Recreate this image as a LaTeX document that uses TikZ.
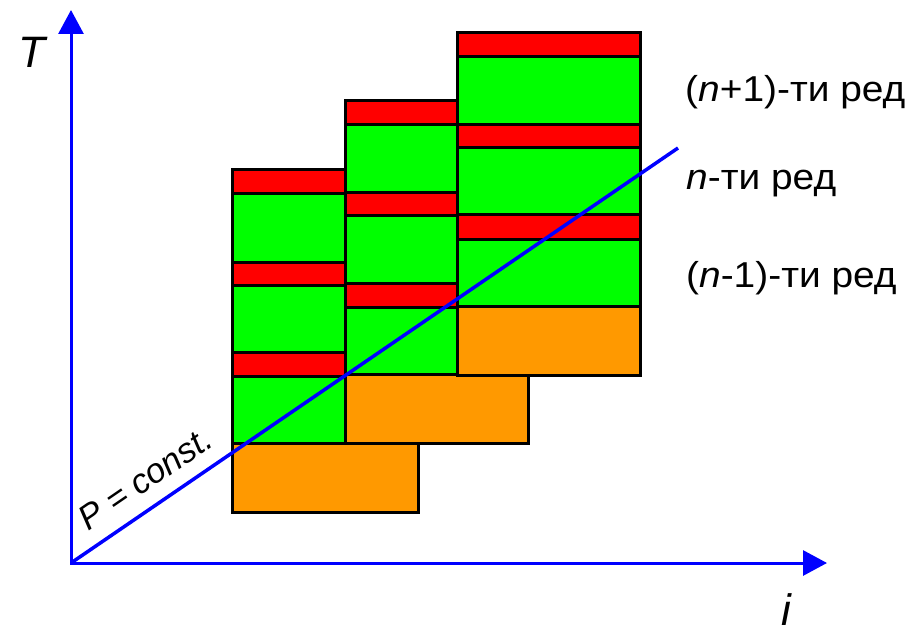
\documentclass[tikz,border=0pt]{standalone}
\usepackage{fontspec}
\setmainfont{Liberation Sans}
\usetikzlibrary{arrows.meta}
\definecolor{cred}{RGB}{255,0,0}
\definecolor{cgreen}{RGB}{0,255,0}
\definecolor{corange}{RGB}{255,153,0}
\definecolor{cblue}{RGB}{0,0,255}
\begin{document}
\begin{tikzpicture}[x=1pt,y=-1pt,
  cell/.style={draw=black,line width=3pt},
  ax/.style={draw=cblue,line width=3pt,{Triangle[length=24pt,width=25pt]}-{Triangle[length=24pt,width=25pt]}},
  lbl/.style={font=\fontsize{36}{40}\selectfont,anchor=base west,inner sep=0pt,xscale=1.08},
  axlbl/.style={font=\itshape\fontsize{44}{48}\selectfont,anchor=base,inner sep=0pt}]
\useasboundingbox (0,0) rectangle (917,628);
% columns
\foreach \xl/\xr/\xo/\B in {232/345/418/512, 345/457/528/443, 457/640/640/375}{
  \filldraw[cell,fill=corange] (\xl,{\B-69}) rectangle (\xo,\B);
  \filldraw[cell,fill=cgreen] (\xl,{\B-136}) rectangle (\xr,{\B-69});
  \filldraw[cell,fill=cred]   (\xl,{\B-160}) rectangle (\xr,{\B-136});
  \filldraw[cell,fill=cgreen] (\xl,{\B-227}) rectangle (\xr,{\B-160});
  \filldraw[cell,fill=cred]   (\xl,{\B-250}) rectangle (\xr,{\B-227});
  \filldraw[cell,fill=cgreen] (\xl,{\B-318}) rectangle (\xr,{\B-250});
  \filldraw[cell,fill=cred]   (\xl,{\B-342}) rectangle (\xr,{\B-318});
}
% axes
\coordinate (O) at (71,563);
\coordinate (Ttip) at (71,10);
\coordinate (Itip) at (827,563);
\coordinate (E) at (678,148);
\draw[ax] (Ttip) -- (O) -- (Itip);
\draw[cblue,line width=3.5pt] (O) -- (E);
% labels
\node[axlbl] (Tl) at (32,68) {T};
\node[axlbl] (il) at (786,625) {i};
\node[font=\itshape\fontsize{34.5}{38}\selectfont,anchor=base west,inner sep=0pt,rotate=34.4] (P) at (88,532) {P = const.};
\node[lbl] (l1) at (685,102) {(\textit{n}+1)-ти ред};
\node[lbl] (l2) at (686,190) {\textit{n}-ти ред};
\node[lbl] (l3) at (686,287) {(\textit{n}-1)-ти ред};
\end{tikzpicture}
\end{document}
